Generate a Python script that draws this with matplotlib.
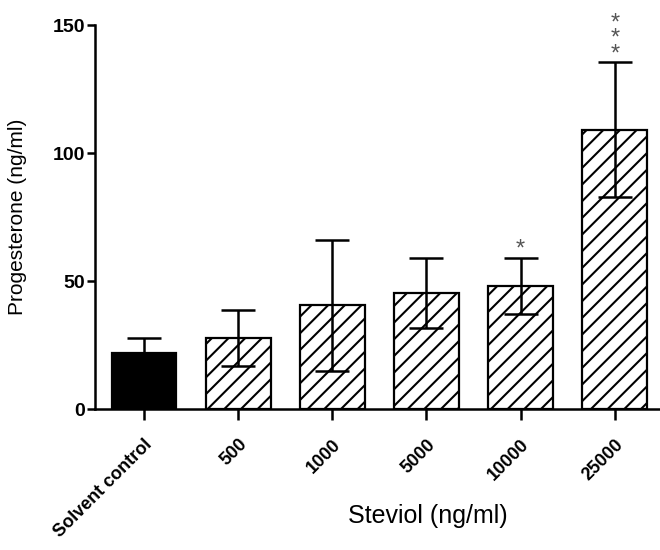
import matplotlib
matplotlib.use("Agg")
import matplotlib.pyplot as plt

# Progesterone by steviol dose (mean +/- SEM)
groups = ["Solvent control", "500", "1000", "5000", "10000", "25000"]
means = [22.2, 27.8, 40.7, 45.3, 48.2, 109.1]
errors = [5.6, 11.0, 25.5, 13.7, 11.0, 26.3]
n_stars = [0, 0, 0, 0, 1, 3]

plt.rcParams["font.family"] = ["Liberation Sans", "DejaVu Sans"]
plt.rcParams["hatch.linewidth"] = 1.5

fig = plt.figure(figsize=(6.6, 5.5), dpi=100)
ax = fig.add_axes([0.144, 0.2555, 0.856, 0.699])

x = list(range(len(groups)))
colors = ["black"] + ["white"] * (len(groups) - 1)
hatches = [""] + ["//"] * (len(groups) - 1)

bars = ax.bar(x, means, width=0.69, color=colors, edgecolor="black",
              linewidth=1.6, zorder=2)
for b, h in zip(bars, hatches):
    b.set_hatch(h)

ax.errorbar(x, means, yerr=errors, fmt="none", ecolor="black",
            elinewidth=1.8, capsize=12, capthick=1.8, zorder=3)

# significance stars, stacked above the error bar (one text per bar)
for xi, m, e, n in zip(x, means, errors, n_stars):
    if n:
        ax.annotate("\n".join(["*"] * n), xy=(xi, m + e), xytext=(0, -2),
                    textcoords="offset points", ha="center", va="bottom",
                    color="#555555", fontsize=17, linespacing=0.62,
                    annotation_clip=False)

ax.set_xlim(-0.52, 5.48)
ax.set_ylim(0, 150)
ax.set_yticks([0, 50, 100, 150])
ax.spines["top"].set_visible(False)
ax.spines["right"].set_visible(False)
ax.spines["left"].set_linewidth(1.8)
ax.spines["bottom"].set_linewidth(1.8)
ax.tick_params(axis="y", length=6, width=1.8, labelsize=14, pad=1)
ax.tick_params(axis="x", length=8, width=1.8, labelsize=13, pad=11)
for lab in ax.get_yticklabels():
    lab.set_fontweight("bold")

ax.set_xticks(x)
ax.set_xticklabels(groups, rotation=45, ha="right", rotation_mode="anchor",
                   fontweight="bold")

ax.set_ylabel("Progesterone (ng/ml)", fontsize=15)
ax.yaxis.set_label_coords(-0.12, 0.5)
ax.set_xlabel("Steviol (ng/ml)", fontsize=18)
ax.xaxis.set_label_coords(0.589, -0.245)

fig.savefig("out.png", dpi=100)
